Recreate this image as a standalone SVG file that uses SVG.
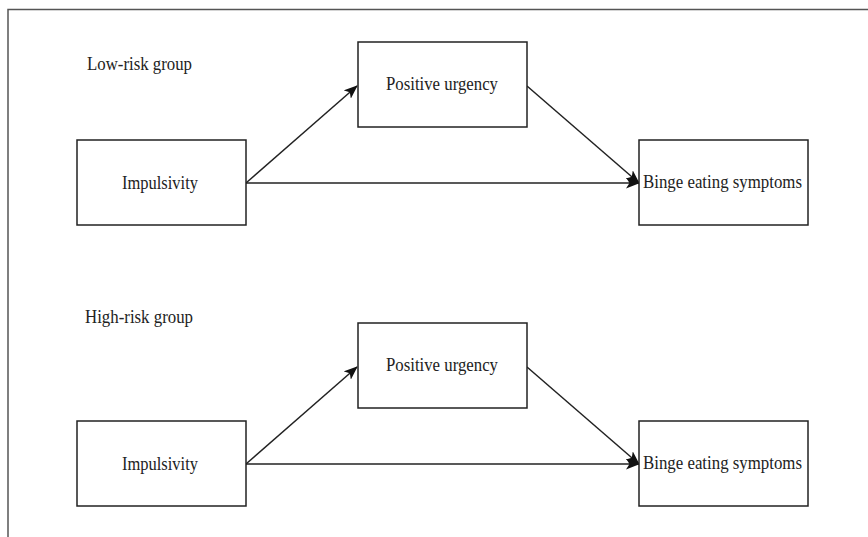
<svg xmlns="http://www.w3.org/2000/svg" width="868" height="537" viewBox="0 0 868 537">
<style>
.frame{stroke:#555;stroke-width:1.5;fill:none}
.box{fill:#fff;stroke:#222;stroke-width:1.5}
.lbl{font-family:"Liberation Serif","Times New Roman",serif;font-size:19px;fill:#222}
.edge{stroke:#222;stroke-width:1.5;fill:none;marker-end:url(#arr)}
</style>
<defs>
<marker id="arr" viewBox="0 0 14 11" refX="13" refY="5.5" markerWidth="14" markerHeight="11" markerUnits="userSpaceOnUse" orient="auto">
<path d="M0,0 L14,5.5 L0,11 L3.5,5.5 Z" fill="#111"/>
</marker>
</defs>
<rect width="868" height="537" fill="#fff"/>
<g id="frame">
<path class="frame" d="M868,9.5 H8 V537"/>
</g>
<g id="connectors">
<line class="edge" x1="246" y1="183" x2="357" y2="86"/>
<line class="edge" x1="527" y1="86" x2="639" y2="183"/>
<line class="edge" x1="246" y1="183" x2="639" y2="183"/>
<line class="edge" x1="246" y1="464" x2="357" y2="367"/>
<line class="edge" x1="527" y1="367" x2="639" y2="464"/>
<line class="edge" x1="246" y1="464" x2="639" y2="464"/>
</g>
<g id="label-low">
<text class="lbl" x="87" y="70" textLength="105" lengthAdjust="spacingAndGlyphs">Low-risk group</text>
</g>
<g id="impulsivity-low">
<rect class="box" x="77" y="140" width="169" height="85"/>
<text class="lbl" x="122" y="189" textLength="76" lengthAdjust="spacingAndGlyphs">Impulsivity</text>
</g>
<g id="urgency-low">
<rect class="box" x="358" y="42" width="169" height="85"/>
<text class="lbl" x="386" y="90" textLength="112" lengthAdjust="spacingAndGlyphs">Positive urgency</text>
</g>
<g id="binge-low">
<rect class="box" x="639" y="140" width="169" height="85"/>
<text class="lbl" x="643" y="188" textLength="159" lengthAdjust="spacingAndGlyphs">Binge eating symptoms</text>
</g>
<g id="label-high">
<text class="lbl" x="85" y="323" textLength="108" lengthAdjust="spacingAndGlyphs">High-risk group</text>
</g>
<g id="impulsivity-high">
<rect class="box" x="77" y="421" width="169" height="85"/>
<text class="lbl" x="122" y="470" textLength="76" lengthAdjust="spacingAndGlyphs">Impulsivity</text>
</g>
<g id="urgency-high">
<rect class="box" x="358" y="323" width="169" height="85"/>
<text class="lbl" x="386" y="371" textLength="112" lengthAdjust="spacingAndGlyphs">Positive urgency</text>
</g>
<g id="binge-high">
<rect class="box" x="639" y="421" width="169" height="85"/>
<text class="lbl" x="643" y="469" textLength="159" lengthAdjust="spacingAndGlyphs">Binge eating symptoms</text>
</g>
</svg>
